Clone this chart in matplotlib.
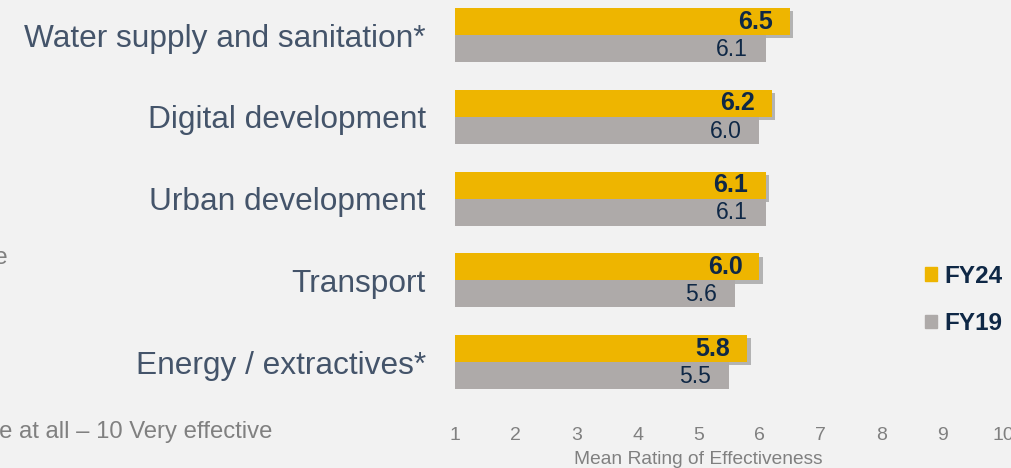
import matplotlib
matplotlib.use("Agg")
import matplotlib.pyplot as plt
import matplotlib.patches as mpatches
import matplotlib.patheffects as pe

# data
categories = ["Water supply and sanitation*", "Digital development",
              "Urban development", "Transport", "Energy / extractives*"]
fy24 = [6.5, 6.2, 6.1, 6.0, 5.8]
fy19 = [6.1, 6.0, 6.1, 5.6, 5.5]
ticks = [1, 2, 3, 4, 5, 6, 7, 8, 9, 10]

BG = "#f2f2f2"
GOLD = "#eeb500"
GREY = "#aeaaa9"
NAVY = "#0f2846"
SLATE = "#44546a"
TICKGREY = "#808080"

plt.rcParams["font.family"] = ["Liberation Sans", "DejaVu Sans"]

W, H = 1012, 468
fig = plt.figure(figsize=(W / 100, H / 100), dpi=100, facecolor=BG)

# axes placed in pixel coords: x 455..1003, y 0..410 (from top)
ax_left, ax_right, ax_top, ax_bot = 455, 1003, 0, 410
ax = fig.add_axes([ax_left / W, 1 - ax_bot / H,
                   (ax_right - ax_left) / W, (ax_bot - ax_top) / H])
ax.set_facecolor(BG)

spacing = 81.75
first = 35
ax.set_xlim(1, 10)
ax.set_ylim((ax_bot - first) / spacing, (ax_top - first) / spacing)

bh = 27 / spacing
ys = list(range(len(categories)))

bars24 = ax.barh([y - bh / 2 for y in ys], [v - 1 for v in fy24], left=1,
                 height=bh, color=GOLD, zorder=3)
for b in bars24:
    b.set_path_effects([pe.SimplePatchShadow(offset=(2.5, -2.5), shadow_rgbFace="#555555", alpha=0.4),
                        pe.Normal()])
bars19 = ax.barh([y + bh / 2 for y in ys], [v - 1 for v in fy19], left=1,
                 height=bh, color=GREY, zorder=3.5)

for y, v in zip(ys, fy24):
    ax.text(v - 0.28, y - bh / 2, f"{v:.1f}", ha="right", va="center",
            fontsize=18, fontweight="bold", color=NAVY, zorder=4)
for y, v in zip(ys, fy19):
    ax.text(v - 0.29, y + bh / 2 + 0.01, f"{v:.1f}", ha="right", va="center",
            fontsize=16.5, color=NAVY, zorder=4)

ax.set_yticks(ys)
ax.set_yticklabels(categories, fontsize=22.8, color=SLATE)
ax.set_xticks(ticks)
ax.set_xticklabels([str(t) for t in ticks], fontsize=14, color=TICKGREY)
ax.tick_params(axis="y", length=0, pad=21)
ax.tick_params(axis="x", length=0, pad=12)
for s in ax.spines.values():
    s.set_visible(False)

ax.set_xlabel("Mean Rating of Effectiveness", fontsize=13.8, color=TICKGREY, labelpad=2)
ax.xaxis.set_label_coords((5 - 1) / 9, -0.1)

# left panel text (cropped off the slide)
fig.text(9 / W, 1 - 258 / H, "Scale", ha="right", va="center",
         fontsize=17.2, color=TICKGREY)
fig.text(272 / W, 1 - 432 / H, "1 Not effective at all \u2013 10 Very effective",
         ha="right", va="center", fontsize=17.2, color=TICKGREY)

handles = [mpatches.Patch(color=GOLD, label="FY24"),
           mpatches.Patch(color=GREY, label="FY19")]
fig.legend(handles=handles, loc="center left", bbox_to_anchor=(925 / W, 1 - 300 / H),
           frameon=False, handlelength=0.5, handleheight=0.5, handletextpad=0.3,
           labelspacing=1.0, borderpad=0, borderaxespad=0,
           prop={"weight": "bold", "size": 17.5}, labelcolor=NAVY)

fig.savefig("out.png", dpi=100, facecolor=BG)
